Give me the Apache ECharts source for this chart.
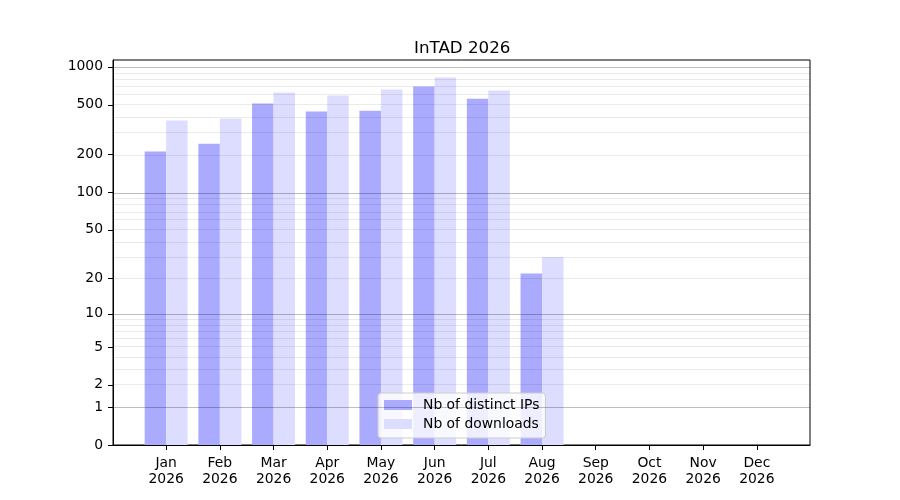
<!DOCTYPE html>
<html>
<head>
<meta charset="utf-8">
<script src="https://cdn.jsdelivr.net/npm/echarts@6/dist/echarts.min.js"></script>
<style>
  html, body { margin: 0; padding: 0; background: #fff; }
  #container { width: 900px; height: 500px; }
</style>
</head>
<body>
<div id="container"></div>
<script>
var months = ["Jan", "Feb", "Mar", "Apr", "May", "Jun", "Jul", "Aug", "Sep", "Oct", "Nov", "Dec"];
var year = "2026";
var distinctIPs = [212, 245, 511, 441, 449, 698, 559, 22, 0, 0, 0, 0];
var downloads = [374, 388, 625, 591, 660, 822, 648, 30, 0, 0, 0, 0];
var yTicks = [0, 1, 2, 5, 10, 20, 50, 100, 200, 500, 1000];
var majorGrid = [1, 10, 100, 1000];
var minorGrid = [2, 3, 4, 5, 6, 7, 8, 9, 20, 30, 40, 50, 60, 70, 80, 90, 200, 300, 400, 500, 600, 700, 800, 900];

// y is drawn as log10(count + 1), like the original symlog-ish axis
function tf(v) { return Math.log10(v + 1); }

var dom = document.getElementById("container");
var myChart = echarts.init(dom);
var font = "DejaVu Sans";
var fs = 13.9;

var gridLines = [];
majorGrid.forEach(function (v) {
  gridLines.push({ yAxis: tf(v), lineStyle: { color: "rgba(0,0,0,0.25)", width: 1, type: "solid" } });
});
minorGrid.forEach(function (v) {
  gridLines.push({ yAxis: tf(v), lineStyle: { color: "rgba(0,0,0,0.08)", width: 1, type: "solid" } });
});

var monthPos = months.map(function (m, i) { return i; });

var option = {
  backgroundColor: "#fff",
  animation: false,
  textStyle: { fontFamily: font },
  title: {
    text: "InTAD " + year,
    left: 409,
    top: 35,
    textStyle: { fontFamily: font, fontSize: 16.7, fontWeight: "normal", color: "#000" }
  },
  legend: {
    orient: "vertical",
    left: 378,
    top: 393,
    icon: "rect",
    itemWidth: 28,
    itemHeight: 10,
    itemGap: 5,
    padding: [5, 6, 7, 6],
    backgroundColor: "rgba(255,255,255,0.8)",
    borderColor: "#cccccc",
    borderWidth: 1,
    borderRadius: 3,
    textStyle: { fontFamily: font, fontSize: fs, color: "#000", padding: [0, 0, 0, 6] },
    data: ["Nb of distinct IPs", "Nb of downloads"]
  },
  grid: {
    left: 113,
    right: 90,
    top: 60,
    bottom: 55,
    show: true,
    borderColor: "#000",
    borderWidth: 1,
    backgroundColor: "transparent"
  },
  xAxis: {
    type: "value",
    min: -0.99,
    max: 11.99,
    splitLine: { show: false },
    axisLine: { show: true, onZero: false, lineStyle: { color: "#000" } },
    axisTick: { show: true, length: 5, customValues: monthPos, lineStyle: { color: "#000" } },
    axisLabel: {
      customValues: monthPos,
      fontFamily: font,
      fontSize: fs,
      color: "#000",
      lineHeight: 16,
      margin: 10,
      formatter: function (v) { return months[Math.round(v)] + "\n" + year; }
    }
  },
  yAxis: {
    type: "value",
    min: 0,
    max: 3.055,
    splitLine: { show: false },
    axisLine: { show: true, onZero: false, lineStyle: { color: "#000" } },
    axisTick: { show: true, length: 5, customValues: yTicks.map(tf), lineStyle: { color: "#000" } },
    axisLabel: {
      customValues: yTicks.map(tf),
      fontFamily: font,
      fontSize: fs,
      color: "#000",
      margin: 10,
      formatter: function (v) { return String(Math.round(Math.pow(10, v) - 1)); }
    }
  },
  series: [
    {
      name: "Nb of distinct IPs",
      type: "bar",
      barWidth: 21.5,
      barGap: "-100%",
      itemStyle: { color: "#aaaaff" },
      data: distinctIPs.map(function (v, i) { return [i - 0.2, tf(v)]; })
    },
    {
      name: "Nb of downloads",
      type: "bar",
      barWidth: 21.5,
      barGap: "-100%",
      itemStyle: { color: "#ddddff" },
      data: downloads.map(function (v, i) { return [i + 0.2, tf(v)]; })
    },
    {
      name: "grid",
      type: "line",
      z: 10,
      silent: true,
      data: [],
      markLine: {
        silent: true,
        symbol: "none",
        label: { show: false },
        data: gridLines
      }
    }
  ]
};
myChart.setOption(option, true);
</script>
</body>
</html>
